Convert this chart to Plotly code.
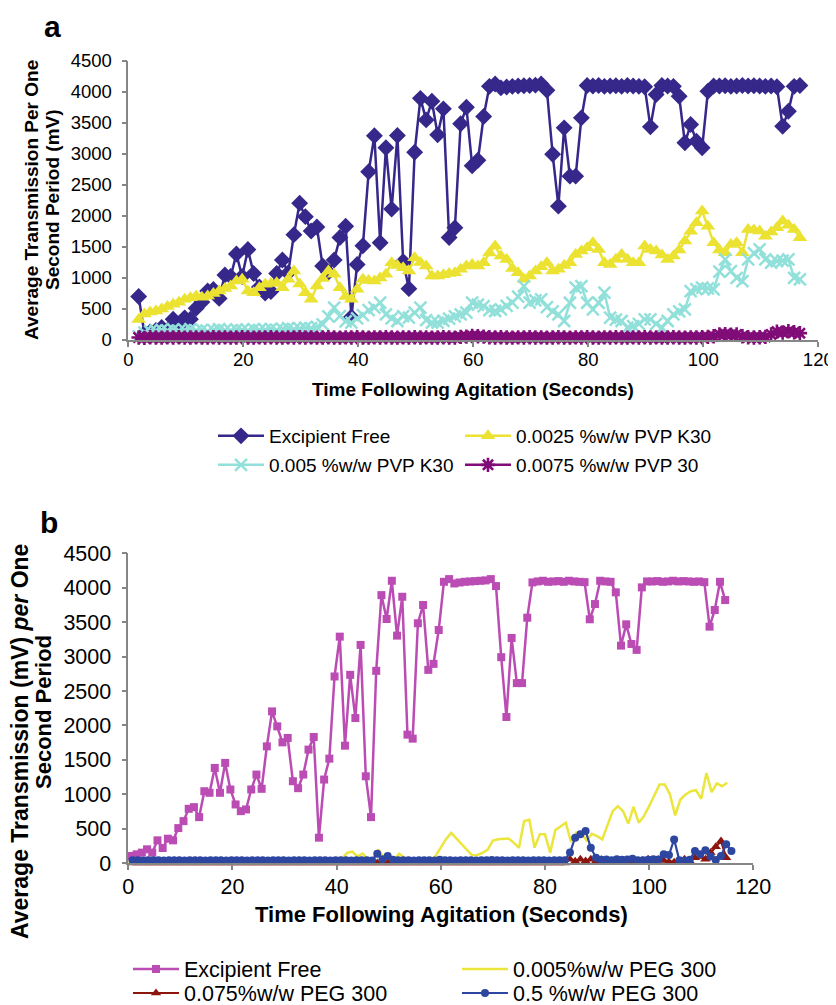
import plotly.graph_objects as go

# The page shows the figure with an 8 px body margin, so the figure is sized
# to fill the 836x1005 window from that offset.
OX, OY = 8, 8
W, H = 836 - OX, 1005 - OY
FONT = "Liberation Sans, Arial, sans-serif"

# ---------------- Panel a data (seconds, mV) ----------------
time_a = [round(1.8 + j, 1) for j in range(116)]

excip_a = [700,
           106, 130, 155, 203, 155, 333, 222, 357, 333, 511,
           612, 791, 815, 670, 1046, 1023, 1384, 1023, 1457, 1071,
           854, 757, 781, 1071, 1288, 1081, 1697, 2204, 1987, 1755,
           1819, 1191, 1090, 1288, 1650, 1833, 372, 1215, 1519, 2711,
           3289, 1567, 3096, 2108, 3294, 1263, 827, 3025, 3892, 3545,
           3846, 3304, 3723, 1650, 1809, 3483, 3748, 2807, 2894, 3600,
           4085, 4124, 4061, 4075, 4085, 4090, 4095, 4100, 4105, 4124,
           4023, 2991, 2156, 3417, 2639, 2639, 3578, 4100, 4090, 4100,
           4085, 4090, 4095, 4085, 4100, 4090, 4085, 4080, 3433, 3953,
           4100, 4090, 4085, 3926, 3176, 3470, 3202, 3096, 4006, 4090,
           4090, 4095, 4085, 4090, 4100, 4090, 4095, 4090, 4085, 4090,
           4080, 3443, 3685, 4085, 4100]

pvp0025_a = [330, 420, 450, 467, 500, 540, 574, 610, 655, 680,
             708, 690, 708, 750, 789, 830, 869, 949, 977, 789,
             763, 843, 896, 910, 923, 843, 980, 1110, 900, 760,
             655, 869, 990, 1110, 1057, 843, 700, 655, 816, 977,
             960, 949, 1000, 1057, 1245, 1200, 1165, 1110, 1326, 1250,
             1191, 1030, 1030, 1050, 1070, 1084, 1138, 1191, 1218, 1191,
             1245, 1400, 1512, 1352, 1298, 1150, 1084, 977, 1030, 1110,
             1180, 1245, 1110, 1138, 1200, 1245, 1379, 1432, 1486, 1567,
             1459, 1245, 1218, 1300, 1379, 1300, 1245, 1245, 1512, 1459,
             1432, 1370, 1298, 1352, 1450, 1593, 1750, 1889, 2076, 1834,
             1567, 1450, 1406, 1540, 1567, 1406, 1781, 1770, 1754, 1673,
             1740, 1808, 1915, 1850, 1781, 1648]

pvp005_a = [60, 120, 140, 150, 165, 150, 170, 145, 160, 175,
            150, 165, 140, 160, 175, 155, 150, 170, 160, 150,
            175, 160, 165, 180, 160, 175, 190, 170, 185, 200,
            190, 210, 250, 380, 521, 386, 300, 280, 350, 400,
            480, 521, 602, 413, 350, 306, 386, 360, 440, 521,
            320, 280, 280, 310, 344, 380, 413, 441, 602, 570,
            547, 480, 467, 494, 550, 602, 700, 869, 602, 640,
            655, 530, 460, 413, 306, 600, 843, 869, 600, 494,
            600, 763, 360, 330, 306, 200, 225, 260, 333, 333,
            260, 200, 306, 413, 460, 494, 789, 820, 843, 830,
            816, 1100, 1298, 1110, 1000, 949, 1298, 1400, 1459, 1300,
            1245, 1271, 1280, 1298, 1000, 977]

pvp0075_a = [40, 35, 45, 40, 38, 42, 40, 45, 38, 40,
             42, 40, 38, 45, 40, 42, 38, 40, 45, 40,
             38, 42, 40, 45, 40, 38, 42, 40, 45, 40,
             42, 38, 40, 45, 40, 38, 42, 40, 45, 40,
             38, 42, 40, 45, 40, 38, 42, 40, 45, 40,
             42, 38, 40, 45, 40, 38, 50, 55, 65, 60,
             55, 45, 40, 45, 40, 38, 42, 40, 45, 40,
             42, 38, 40, 45, 40, 38, 42, 40, 45, 40,
             38, 42, 40, 45, 40, 38, 42, 40, 45, 40,
             42, 38, 40, 45, 40, 38, 42, 40, 45, 50,
             60, 90, 95, 85, 90, 60, 45, 40, 45, 50,
             90, 135, 120, 140, 125, 110]

# ---------------- Panel b data (seconds, mV) ----------------
time_b_free = [round(0.6 + k, 1) for k in range(115)]
excip_b = [106, 130, 155, 203, 155, 333, 222, 357, 333, 511,
           612, 791, 815, 670, 1046, 1023, 1384, 1023, 1457, 1071,
           854, 757, 781, 1071, 1288, 1081, 1697, 2204, 1987, 1755,
           1819, 1191, 1090, 1288, 1650, 1833, 372, 1215, 1519, 2711,
           3289, 1707, 2735, 2108, 3169, 1263, 670, 2793, 3892, 3545,
           4100, 3304, 3868, 1867, 1809, 3483, 3748, 2807, 2894, 3386,
           4085, 4124, 4061, 4075, 4085, 4090, 4095, 4100, 4105, 4124,
           4023, 2991, 2123, 3270, 2615, 2615, 3564, 4076, 4090, 4100,
           4085, 4090, 4095, 4085, 4100, 4090, 4085, 4080, 3541, 3762,
           4100, 4090, 4085, 3932, 3159, 3468, 3183, 3097, 4004, 4090,
           4090, 4095, 4085, 4090, 4100, 4090, 4095, 4090, 4085, 4090,
           4080, 3434, 3676, 4085, 3820]

time_b_line = list(range(116))
peg0005_b = [20, 22, 18, 20, 21, 19, 20, 22, 18, 20,
             21, 19, 20, 22, 18, 20, 21, 19, 20, 22,
             18, 20, 21, 19, 20, 22, 18, 20, 21, 19,
             20, 22, 18, 20, 21, 19, 20, 22, 18, 20,
             22, 60, 150, 170, 100, 140, 60, 40, 200, 90,
             40, 50, 140, 80, 30, 30, 30, 30, 35, 106,
             230, 350, 440, 360, 275, 200, 116, 120, 150, 200,
             330, 350, 357, 360, 300, 225, 612, 630, 227, 420,
             420, 155, 485, 540, 589, 309, 444, 434, 330, 429,
             395, 347, 560, 757, 829, 757, 574, 820, 589, 684,
             829, 998, 1143, 1143, 998, 694, 926, 998, 1046, 1060,
             936, 1310, 1032, 1160, 1119, 1168]

time_b_dots = [round(0.8 + k, 1) for k in range(116)]
peg0075_b = [5, 6, 4, 5, 6, 5, 4, 5, 6, 5,
             5, 6, 4, 5, 6, 5, 4, 5, 6, 5,
             5, 6, 4, 5, 6, 5, 4, 5, 6, 5,
             5, 6, 4, 5, 6, 5, 4, 5, 6, 5,
             5, 6, 4, 5, 6, 5, 4, 5, 6, 5,
             5, 6, 4, 5, 6, 5, 4, 5, 6, 5,
             5, 6, 4, 5, 6, 5, 4, 5, 6, 5,
             5, 6, 4, 5, 6, 5, 4, 5, 6, 5,
             5, 6, 4, 5, 60, 30, 60, 35, 60, 30,
             50, 15, 20, 15, 20, 15, 20, 25, 40, 60,
             30, 50, 40, 20, 15, 10, 60, 30, 82, 100,
             60, 155, 241, 323, 82]

peg05_b = [43, 45, 42, 44, 43, 45, 42, 44, 43, 45,
           42, 44, 43, 45, 42, 44, 43, 45, 42, 44,
           43, 45, 42, 44, 43, 45, 42, 44, 43, 45,
           42, 44, 43, 45, 42, 44, 43, 45, 42, 44,
           43, 45, 42, 44, 43, 45, 42, 140, 60, 106,
           50, 45, 43, 45, 42, 44, 43, 45, 42, 50,
           43, 45, 42, 44, 43, 45, 42, 44, 43, 48,
           43, 45, 42, 44, 43, 45, 42, 44, 43, 45,
           42, 44, 43, 45, 155, 372, 420, 467, 227, 82,
           50, 55, 45, 60, 50, 55, 65, 45, 45, 50,
           60, 55, 130, 120, 347, 45, 40, 50, 178, 130,
           188, 97, 48, 106, 275, 178]


# ---------------- helpers (window pixels -> paper fractions) ----------------
def px(x):
    return (x - OX) / W


def py(y):
    return 1 - (y - OY) / H


fig = go.Figure()

# Panel a traces
fig.add_trace(go.Scatter(
    x=time_a, y=excip_a, mode="lines+markers", name="Excipient Free",
    line=dict(color="#35288a", width=2.5),
    marker=dict(symbol="diamond", size=13, color="#35288a", line=dict(width=0)),
    xaxis="x", yaxis="y", legend="legend", cliponaxis=False))
fig.add_trace(go.Scatter(
    x=time_a, y=pvp0025_a, mode="lines+markers", name="0.0025 %w/w PVP K30",
    line=dict(color="#ebe232", width=2.5),
    marker=dict(symbol="triangle-up", size=13, color="#ebe232", line=dict(width=0)),
    xaxis="x", yaxis="y", legend="legend2", cliponaxis=False))
fig.add_trace(go.Scatter(
    x=time_a, y=pvp005_a, mode="lines+markers", name="0.005 %w/w PVP K30",
    line=dict(color="#92e0da", width=2.5),
    marker=dict(symbol="x-thin-open", size=12, color="#92e0da",
                line=dict(width=2.5, color="#92e0da")),
    xaxis="x", yaxis="y", legend="legend3", cliponaxis=False))
fig.add_trace(go.Scatter(
    x=time_a, y=pvp0075_a, mode="lines+markers", name="0.0075 %w/w PVP 30",
    line=dict(color="#800c78", width=2.5),
    marker=dict(symbol="asterisk-open", size=12, color="#800c78",
                line=dict(width=2.6, color="#800c78")),
    xaxis="x", yaxis="y", legend="legend4", cliponaxis=False))

# Panel b traces
fig.add_trace(go.Scatter(
    x=time_b_free, y=excip_b, mode="lines+markers", name="Excipient Free",
    line=dict(color="#bb4cb4", width=2.5),
    marker=dict(symbol="square", size=8, color="#bb4cb4", line=dict(width=0)),
    xaxis="x2", yaxis="y2", legend="legend5", cliponaxis=False))
fig.add_trace(go.Scatter(
    x=time_b_line, y=peg0005_b, mode="lines", name="0.005%w/w PEG 300",
    line=dict(color="#ece53c", width=2.5),
    xaxis="x2", yaxis="y2", legend="legend6", cliponaxis=False))
fig.add_trace(go.Scatter(
    x=time_b_dots[:115], y=peg0075_b, mode="lines+markers", name="0.075%w/w PEG 300",
    line=dict(color="#8c160e", width=2.2),
    marker=dict(symbol="triangle-up", size=9, color="#8c160e", line=dict(width=0)),
    xaxis="x2", yaxis="y2", legend="legend7", cliponaxis=False))
fig.add_trace(go.Scatter(
    x=time_b_dots, y=peg05_b, mode="lines+markers", name="0.5 %w/w PEG 300",
    line=dict(color="#2d46a0", width=2.2),
    marker=dict(symbol="circle", size=8, color="#2d46a0", line=dict(width=0)),
    xaxis="x2", yaxis="y2", legend="legend8", cliponaxis=False))

AXC = "#868686"


def axis(size, **kw):
    d = dict(showgrid=False, zeroline=False, showline=True, linecolor=AXC,
             linewidth=1.5, ticks="outside", ticklen=5, tickcolor=AXC,
             tickwidth=1.5, tickfont=dict(family=FONT, size=size, color="black"),
             automargin=False, fixedrange=True, ticklabeloverflow="allow")
    d.update(kw)
    return d


def leg(xpx, ypx, size):
    return dict(orientation="v", x=px(xpx), y=py(ypx), xanchor="left",
                yanchor="middle", itemwidth=46,
                font=dict(family=FONT, size=size, color="black"),
                bgcolor="rgba(0,0,0,0)", borderwidth=0)


fig.update_layout(
    width=W, height=H,
    margin=dict(l=0, r=0, t=0, b=0, autoexpand=False),
    paper_bgcolor="white", plot_bgcolor="white",
    font=dict(family=FONT, color="black"),
    showlegend=True,
    xaxis=axis(18.5, domain=[px(128.3), px(818.3)], range=[0, 120], dtick=20,
               tick0=0, anchor="y", ticklabelstandoff=-3),
    yaxis=axis(18.5, domain=[py(340), py(60.6)], range=[0, 4500], dtick=500,
               tick0=0, anchor="x", ticklabelstandoff=6),
    xaxis2=axis(21.5, domain=[px(128.3), px(753.3)], range=[0, 120], dtick=20,
                tick0=0, anchor="y2", ticklabelstandoff=-2),
    yaxis2=axis(21.5, domain=[py(863.3), py(553.2)], range=[0, 4500], dtick=500,
                tick0=0, anchor="x2", ticklabelstandoff=6),
    legend=leg(213, 436, 19),
    legend2=leg(460, 436, 19),
    legend3=leg(213, 465, 19),
    legend4=leg(460, 465, 19),
    legend5=leg(128, 969, 21.5),
    legend6=leg(457, 969, 21.5),
    legend7=leg(128, 993, 21.5),
    legend8=leg(457, 993, 21.5),
)

annotations = [
    dict(text="<b>a</b>", x=px(52), y=py(8), yanchor="top", font=dict(size=30)),
    dict(text="<b>b</b>", x=px(49), y=py(522), yanchor="middle", font=dict(size=30)),
    dict(text="<b>Average Transmission Per One</b>", x=px(31), y=py(200),
         textangle=-90, font=dict(size=19)),
    dict(text="<b>Second Period (mV)</b>", x=px(52), y=py(200),
         textangle=-90, font=dict(size=19)),
    dict(text="<b>Time Following Agitation (Seconds)</b>", x=px(473), y=py(390),
         font=dict(size=19)),
    dict(text="<b>Average Transmission (mV) <i>per</i> One</b>", x=px(20), y=py(742),
         textangle=-90, font=dict(size=23)),
    dict(text="<b>Second Period</b>", x=px(43), y=py(712),
         textangle=-90, font=dict(size=22)),
    dict(text="<b>Time Following Agitation (Seconds)</b>", x=px(441), y=py(914),
         font=dict(size=22)),
]
for a in annotations:
    a.setdefault("yanchor", "middle")
    a.update(xref="paper", yref="paper", showarrow=False, xanchor="center")
    a["font"].update(family=FONT, color="black")
fig.update_layout(annotations=annotations)

fig.write_html("out.html")
